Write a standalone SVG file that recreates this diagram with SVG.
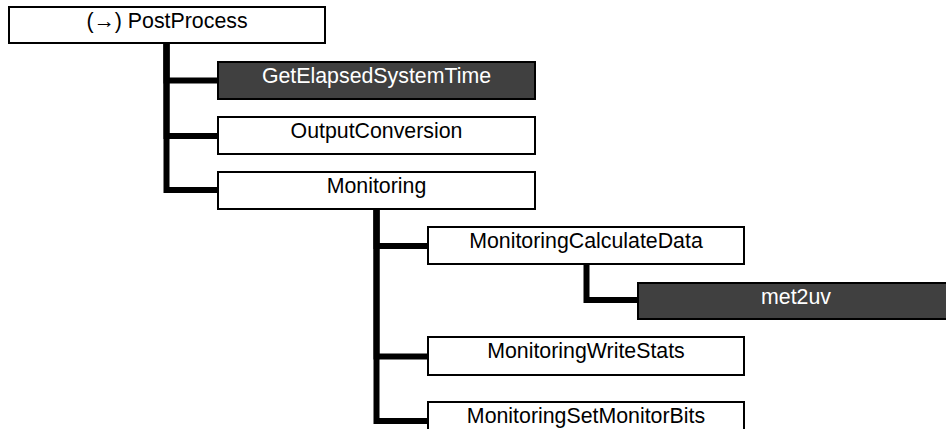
<svg xmlns="http://www.w3.org/2000/svg" width="946" height="429" viewBox="0 0 946 429">
<style>
.box{fill:#ffffff;stroke:#000000;stroke-width:2}
.dark{fill:#404040;stroke:#000000;stroke-width:2}
.lbl{font-family:"Liberation Sans",Arial,sans-serif;font-size:21.33px;text-anchor:middle;fill:#000000}
.lblw{font-family:"Liberation Sans",Arial,sans-serif;font-size:21.33px;text-anchor:middle;fill:#ffffff}
.conn{fill:none;stroke:#000000;stroke-width:6;stroke-linejoin:miter;stroke-linecap:butt}
</style>
<rect width="946" height="429" fill="#ffffff"/>
<g id="connectors">
<path class="conn" d="M166.5 43 V80.5 H218"/>
<path class="conn" d="M166.5 43 V136 H218"/>
<path class="conn" d="M166.5 43 V190 H218"/>
<path class="conn" d="M376.5 209 V246 H428"/>
<path class="conn" d="M376.5 209 V356.5 H428"/>
<path class="conn" d="M376.5 209 V421 H428"/>
<path class="conn" d="M586.5 264 V300 H638"/>
</g>
<g id="PostProcess">
<rect class="box" x="9" y="7" width="316" height="36"/>
<text class="lbl" x="167" y="28">(→) PostProcess</text>
</g>
<g id="GetElapsedSystemTime">
<rect class="dark" x="218" y="62" width="317" height="37"/>
<text class="lblw" x="376.5" y="83">GetElapsedSystemTime</text>
</g>
<g id="OutputConversion">
<rect class="box" x="218" y="117" width="317" height="37"/>
<text class="lbl" x="376.5" y="137.5">OutputConversion</text>
</g>
<g id="Monitoring">
<rect class="box" x="218" y="172" width="317" height="37"/>
<text class="lbl" x="376.5" y="193">Monitoring</text>
</g>
<g id="MonitoringCalculateData">
<rect class="box" x="428" y="227" width="316" height="37"/>
<text class="lbl" x="586" y="248">MonitoringCalculateData</text>
</g>
<g id="met2uv">
<rect class="dark" x="638" y="283" width="316" height="36"/>
<text class="lblw" x="796" y="304">met2uv</text>
</g>
<g id="MonitoringWriteStats">
<rect class="box" x="428" y="337" width="316" height="38"/>
<text class="lbl" x="586" y="358">MonitoringWriteStats</text>
</g>
<g id="MonitoringSetMonitorBits">
<rect class="box" x="428" y="402" width="316" height="37"/>
<text class="lbl" x="586" y="423">MonitoringSetMonitorBits</text>
</g>
</svg>
